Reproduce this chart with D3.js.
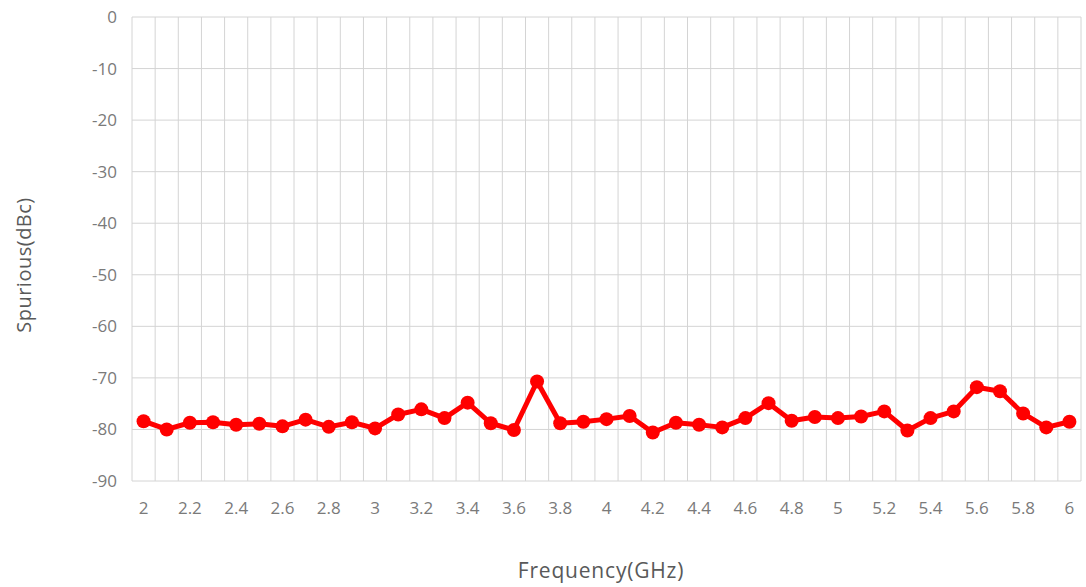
<!DOCTYPE html>
<html>
<head>
<meta charset="utf-8">
<script src="https://cdn.jsdelivr.net/npm/d3@7"></script>
<style>
  body { margin: 0; background: #fff; }
  svg { display: block; font-family: "Open Sans", sans-serif; }
</style>
</head>
<body>
<div id="vis-holder"></div>
<script>
// frequency points (GHz) and measured spurious (dBc)
const freqs = [2, 2.1, 2.2, 2.3, 2.4, 2.5, 2.6, 2.7, 2.8, 2.9,
    3, 3.1, 3.2, 3.3, 3.4, 3.5, 3.6, 3.7, 3.8, 3.9,
    4, 4.1, 4.2, 4.3, 4.4, 4.5, 4.6, 4.7, 4.8, 4.9,
    5, 5.1, 5.2, 5.3, 5.4, 5.5, 5.6, 5.7, 5.8, 5.9, 6];
const spurious = [-78.4, -80.0, -78.7, -78.6, -79.1, -78.9, -79.4, -78.1, -79.5, -78.6,
    -79.8, -77.1, -76.1, -77.8, -74.8, -78.8, -80.1, -70.7, -78.8, -78.5,
    -78.0, -77.4, -80.6, -78.7, -79.1, -79.6, -77.8, -74.9, -78.3, -77.6,
    -77.8, -77.5, -76.5, -80.2, -77.8, -76.5, -71.8, -72.6, -76.9, -79.6, -78.5];
const yTicks = [0, -10, -20, -30, -40, -50, -60, -70, -80, -90];

const width = 1086, height = 587;
const margin = { top: 17, right: 5, bottom: 106, left: 132 };

const svg = d3.select("#vis-holder")
    .append("svg")
    .attr("width", width)
    .attr("height", height);

const x = d3.scaleBand()
    .domain(freqs.map(String))
    .range([margin.left, width - margin.right])
    .padding(0);

const y = d3.scaleLinear()
    .domain([-90, 0])
    .range([height - margin.bottom, margin.top]);

// horizontal gridlines
svg.append("g")
    .selectAll("line")
    .data(yTicks)
    .enter().append("line")
    .attr("x1", margin.left)
    .attr("x2", width - margin.right)
    .attr("y1", d => y(d))
    .attr("y2", d => y(d))
    .attr("stroke", "#d4d4d4")
    .attr("stroke-width", 1);

// vertical gridlines at category edges
const edges = freqs.map(f => x(String(f))).concat([width - margin.right]);
svg.append("g")
    .selectAll("line")
    .data(edges)
    .enter().append("line")
    .attr("x1", d => d)
    .attr("x2", d => d)
    .attr("y1", y(0))
    .attr("y2", y(-90))
    .attr("stroke", "#d4d4d4")
    .attr("stroke-width", 1);

// y tick labels
svg.append("g")
    .selectAll("text")
    .data(yTicks)
    .enter().append("text")
    .attr("x", 117)
    .attr("y", d => y(d))
    .attr("dy", "0.35em")
    .attr("text-anchor", "end")
    .attr("fill", "#7a7a7a")
    .style("font-size", "17px")
    .text(d => d);

// x tick labels, every other category
svg.append("g")
    .selectAll("text")
    .data(freqs.filter((f, i) => i % 2 === 0))
    .enter().append("text")
    .attr("x", d => x(String(d)) + x.bandwidth() / 2)
    .attr("y", 508)
    .attr("dy", "0.35em")
    .attr("text-anchor", "middle")
    .attr("fill", "#7a7a7a")
    .style("font-size", "17px")
    .text(d => d);

// axis titles
svg.append("text")
    .attr("x", 601)
    .attr("y", 571)
    .attr("dy", "0.35em")
    .attr("text-anchor", "middle")
    .attr("fill", "#595959")
    .style("font-size", "21px")
    .style("letter-spacing", "0.8px")
    .text("Frequency(GHz)");

svg.append("text")
    .attr("transform", "translate(24,265) rotate(-90)")
    .attr("dy", "0.35em")
    .attr("text-anchor", "middle")
    .attr("fill", "#595959")
    .style("font-size", "20px")
    .style("letter-spacing", "0.5px")
    .text("Spurious(dBc)");

// series line and markers
const points = freqs.map((f, i) => [x(String(f)) + x.bandwidth() / 2, y(spurious[i])]);

svg.append("path")
    .datum(points)
    .attr("d", d3.line())
    .attr("fill", "none")
    .attr("stroke", "#ff0000")
    .attr("stroke-width", 5)
    .attr("stroke-linejoin", "round");

svg.append("g")
    .selectAll("circle")
    .data(points)
    .enter().append("circle")
    .attr("cx", d => d[0])
    .attr("cy", d => d[1])
    .attr("r", 7)
    .attr("fill", "#ff0000");
</script>
</body>
</html>
